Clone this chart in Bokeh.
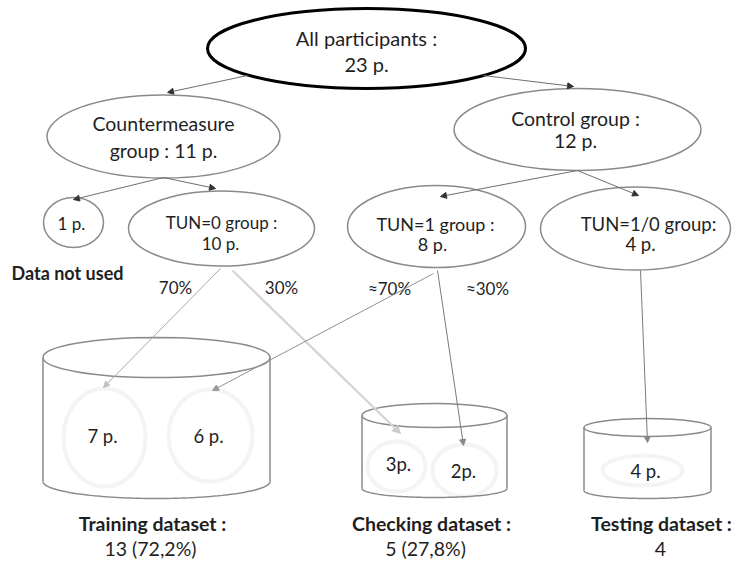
import numpy as np
from bokeh.plotting import figure
from bokeh.models import Range1d, Arrow, NormalHead
from bokeh.core.properties import value
from bokeh.embed import file_html
from bokeh.resources import INLINE

# ---------------- data ----------------
all_participants = 23
countermeasure_n = 11
control_n = 12
unused_n = 1
tun0_n = 10
tun1_n = 8
tun10_n = 4
split_labels = ["70%", "30%", "\u224870%", "\u224830%"]
dataset_names = ["Training dataset :", "Checking dataset :", "Testing dataset :"]
dataset_totals = ["13 (72,2%)", "5 (27,8%)", "4"]
part_values = [7, 6, 3, 2, 4]
part_sep = [" ", " ", "", "", " "]

# ---------------- layout (image pixel coordinates) ----------------
W, H = 737, 562
FONT = value("Lato")
TXT = "#1f1f1f"
EDGE = "#8a8a8a"


def Y(v):
    return H - v


p = figure(width=W, height=H, output_backend="svg", toolbar_location=None,
           x_range=Range1d(0, W), y_range=Range1d(0, H), min_border=0)
p.axis.visible = False
p.grid.visible = False
p.outline_line_color = None
p.background_fill_color = "white"


def txt(xs, ys, texts, size, bold=False, color=TXT):
    p.text(x=xs, y=[Y(v) for v in ys], text=texts, text_font=FONT,
           text_font_size=size, text_align="center", text_baseline="middle",
           text_color=color, text_font_style="bold" if bold else "normal")


# ----- faint inner circles (drawn first) -----
p.ellipse(x=[104, 210, 396, 464, 642], y=[Y(v) for v in [437, 435, 466, 470, 470]],
          width=[82, 84, 58, 64, 80], height=[98, 92, 50, 52, 30],
          fill_color=None, line_color="#f4f4f4", line_width=4)

# ----- node ellipses -----
nodes_x = [163, 577, 73, 221, 436, 635]
nodes_y = [136, 129, 222, 228, 226, 228]
nodes_w = [233, 247, 60, 186, 178, 190]
nodes_h = [83, 82, 50, 75, 82, 83]
p.ellipse(x=nodes_x, y=[Y(v) for v in nodes_y], width=nodes_w, height=nodes_h,
          fill_color="white", line_color=EDGE, line_width=1.5)
p.ellipse(x=[366], y=[Y(48)], width=[318], height=[80], fill_color="white",
          line_color="black", line_width=3)

# ----- arrows -----
def arrow(x0, y0, x1, y1, color="#6e6e6e", width=1.0, head="#333333", size=6):
    p.add_layout(Arrow(x_start=x0, y_start=Y(y0), x_end=x1, y_end=Y(y1),
                       line_color=color, line_width=width,
                       end=NormalHead(size=size, fill_color=head, line_color=head)))

arrow(247, 75, 167, 92)
arrow(483, 75, 573, 86)
arrow(163, 177, 73, 199)
arrow(163, 177, 215, 188)
arrow(577, 170, 440, 196)
arrow(577, 170, 638, 195)
arrow(220, 268, 103, 387, color="#a8a8a8", head="#c0c0c0")
arrow(232, 270, 400, 433, color="#d4d4d4", width=2.2, head="#cccccc", size=8)
arrow(433, 273, 212, 390, color="#909090", head="#9a9a9a")
arrow(437, 270, 463, 445, color="#7a7a7a", head="#888888")
arrow(640, 270, 647, 442, color="#7a7a7a", head="#888888")

# ----- cylinders -----
def cylinder(cx, w, ty, th, by, bh):
    p.ellipse(x=[cx], y=[Y(ty)], width=[w], height=[th], fill_color=None,
              line_color=EDGE, line_width=1.5)
    p.segment(x0=[cx - w / 2, cx + w / 2], y0=[Y(ty), Y(ty)],
              x1=[cx - w / 2, cx + w / 2], y1=[Y(by), Y(by)],
              line_color=EDGE, line_width=1.5)
    t = np.linspace(np.pi, 2 * np.pi, 80)
    p.line(cx + w / 2 * np.cos(t), Y(by) + bh / 2 * np.sin(t),
           line_color=EDGE, line_width=1.5)

cylinder(156, 227, 357, 40, 481, 34)
cylinder(434, 145, 415, 24, 488, 18)
cylinder(647, 127, 427, 18, 490, 16)

# ----- texts -----
txt([366, 366], [37, 63], ["All participants :", f"{all_participants} p."], "20px")
txt([163, 163], [123, 150], ["Countermeasure", f"group : {countermeasure_n} p."], "19.5px")
txt([575, 575], [118, 140], ["Control group :", f"{control_n} p."], "19.5px")
txt([71], [223], [f"{unused_n} p."], "17px")
txt([221, 220], [222, 243], ["TUN=0 group :", f"{tun0_n} p."], "17px")
txt([435, 432], [223, 243], ["TUN=1 group :", f"{tun1_n} p."], "18px")
txt([648, 640], [223, 243], ["TUN=1/0 group:", f"{tun10_n} p."], "18.5px")
txt([67], [272], ["Data not used"], "18px", bold=True)
txt([175, 281, 389, 487], [287, 287, 288, 288], split_labels, "17px")

part_labels = [f"{v}{s}p." for v, s in zip(part_values, part_sep)]
txt([102, 208, 398, 463, 645], [435, 435, 463, 470, 470], part_labels, "18.5px")

txt([152, 431, 661], [523, 523, 523], dataset_names, "19.5px", bold=True)
txt([150, 425, 660], [548, 548, 548], dataset_totals, "19.5px")

open("out.html", "w").write(file_html(p, INLINE))
